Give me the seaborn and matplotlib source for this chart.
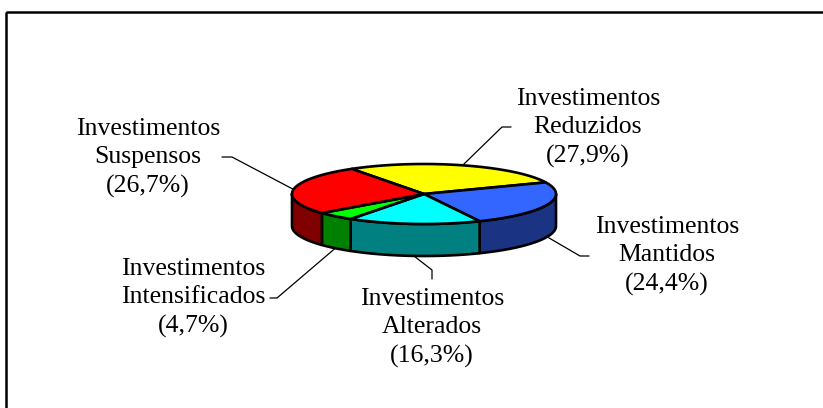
import numpy as np
import matplotlib
matplotlib.use("Agg")
import matplotlib.pyplot as plt
import seaborn as sns
from matplotlib.patches import Polygon, Rectangle

# ---- data ----
categories = ["Reduzidos", "Mantidos", "Alterados", "Intensificados", "Suspensos"]
values = [27.9, 24.4, 16.3, 4.7, 26.7]
pct_labels = ["(27,9%)", "(24,4%)", "(16,3%)", "(4,7%)", "(26,7%)"]
top_colors = ["#FFFF00", "#3366FF", "#00FFFF", "#00FF00", "#FF0000"]
side_colors = ["#808000", "#1A3383", "#008080", "#008000", "#800000"]

# ---- layout (pixel coordinates) ----
W, H = 823, 408
cx, cy, ra, rb, depth = 424, 194, 132, 30, 32
start_angle = 123.2
label_pos = [(588, 128), (667, 256), (432, 328), (193, 298), (148, 158)]
elbows = [[(502, 127), (511, 127)],
          [(580, 256), (589, 256)],
          [(432, 270), (432, 279)],
          [(277, 298), (270, 298)],
          [(232, 157), (222, 157)]]

sns.set_theme(style="white")
plt.rcParams["font.family"] = ["Liberation Serif", "DejaVu Serif"]

fig = plt.figure(figsize=(W / 100, H / 100), dpi=100)
ax = fig.add_axes([0, 0, 1, 1])
ax.set_xlim(0, W)
ax.set_ylim(H, 0)
ax.axis("off")

# outer frame
ax.add_patch(Rectangle((6, 12), W + 20, H + 20, fill=False, lw=1.8,
                       ec="black", zorder=0))


def ell(theta_deg, dy=0.0):
    t = np.radians(theta_deg)
    return cx + ra * np.cos(t), cy - rb * np.sin(t) + dy


total = float(sum(values))
cum = 0.0
slices = []
for v in values:
    a0 = start_angle - cum / total * 360.0
    cum += v
    a1 = start_angle - cum / total * 360.0
    slices.append((a0, a1))

lw = 1.9
# sides (front half only: angles between -180 and 0)
for (a0, a1), sc in zip(slices, side_colors):
    lo, hi = max(a1, -180.0), min(a0, 0.0)
    if hi <= lo:
        continue
    th = np.linspace(lo, hi, 80)
    topx, topy = ell(th)
    botx, boty = ell(th[::-1], depth)
    pts = np.column_stack([np.r_[topx, botx], np.r_[topy, boty]])
    ax.add_patch(Polygon(pts, closed=True, fc=sc, ec="black", lw=lw,
                         joinstyle="round", zorder=2))

# tops
for (a0, a1), tc in zip(slices, top_colors):
    th = np.linspace(a0, a1, 120)
    x, y = ell(th)
    pts = np.column_stack([np.r_[cx, x], np.r_[cy, y]])
    ax.add_patch(Polygon(pts, closed=True, fc=tc, ec="black", lw=lw,
                         joinstyle="round", zorder=3))

# labels and leader lines
for (a0, a1), cat, pl, (tx, ty), el in zip(slices, categories, pct_labels,
                                            label_pos, elbows):
    mid = (a0 + a1) / 2.0
    dy = depth if np.sin(np.radians(mid)) < 0 else 0.0
    axp, ayp = ell(mid, dy)
    xs = [axp] + [p[0] for p in el]
    ys = [ayp] + [p[1] for p in el]
    ax.plot(xs, ys, color="black", lw=0.9, zorder=4)
    ax.text(tx, ty, "Investimentos\n" + cat + "\n" + pl, ha="center",
            va="center", fontsize=18.5, linespacing=1.35, color="black",
            zorder=5)

fig.savefig("out.png", dpi=100)
